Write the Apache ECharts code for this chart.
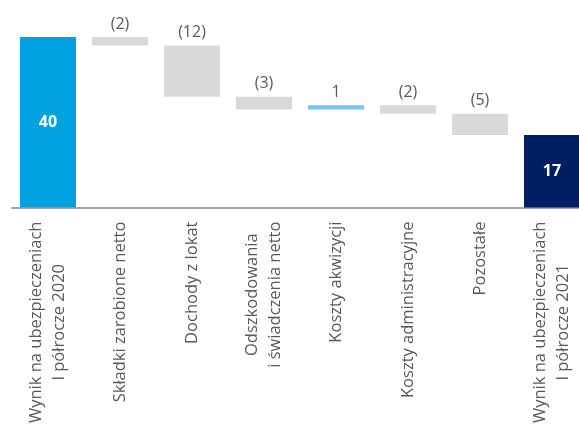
<!DOCTYPE html>
<html>
<head>
<meta charset="utf-8">
<script src="https://cdn.jsdelivr.net/npm/echarts@6/dist/echarts.min.js"></script>
<style>
html,body{margin:0;padding:0;background:#fff;overflow:hidden;width:579px;height:426px;}
#c{width:588px;height:426px;}
</style>
</head>
<body>
<div id="c"></div>
<script>
var categories = [
  'Wynik na ubezpieczeniach\nI półrocze 2020',
  'Składki zarobione netto',
  'Dochody z lokat',
  'Odszkodowania\ni świadczenia netto',
  'Koszty akwizycji',
  'Koszty administracyjne',
  'Pozostałe',
  'Wynik na ubezpieczeniach\nI półrocze 2021'
];
var values = [40, -2, -12, -3, 1, -2, -5, 17];
var kinds = ['total', 'delta', 'delta', 'delta', 'delta', 'delta', 'delta', 'total'];

var colors = {
  start: '#00A3E0',
  end: '#001E62',
  neg: '#D9D9D9',
  pos: '#75C6F2'
};

// build waterfall from values
var base = [], shown = [], running = 0;
for (var i = 0; i < values.length; i++) {
  var v = values[i];
  if (kinds[i] === 'total') {
    base.push(0);
    shown.push(v);
    running = v;
  } else {
    var next = running + v;
    base.push(Math.min(running, next));
    shown.push(Math.abs(v));
    running = next;
  }
}

var barData = shown.map(function (s, i) {
  var col;
  if (kinds[i] === 'total') col = (i === 0) ? colors.start : colors.end;
  else col = values[i] < 0 ? colors.neg : colors.pos;
  var item = { value: s, itemStyle: { color: col } };
  if (kinds[i] === 'total') {
    item.label = { show: true, position: 'inside', color: '#fff', fontWeight: 'bold', fontSize: 16,
      fontFamily: 'Open Sans', formatter: String(values[i]) };
  } else {
    item.label = { show: true, position: 'top', distance: 5, color: '#595959', fontSize: 16,
      fontFamily: 'Open Sans',
      formatter: values[i] < 0 ? '(' + Math.abs(values[i]) + ')' : String(values[i]) };
  }
  return item;
});

var chart = echarts.init(document.getElementById('c'), null, { renderer: 'canvas' });
chart.setOption({
  animation: false,
  textStyle: { fontFamily: 'Open Sans' },
  grid: { left: 12, top: 37, right: 0, height: 173, containLabel: false },
  xAxis: {
    type: 'category',
    data: categories,
    axisLine: { show: true, lineStyle: { color: '#A6A6A6', width: 2 } },
    axisTick: { show: false },
    axisLabel: {
      interval: 0,
      rotate: 90,
      margin: 14,
      color: '#595959',
      fontSize: 16.5,
      fontFamily: 'Open Sans',
      formatter: function (v) {
        return v.split('\n').map(function (l) { return '{a|' + l + '}'; }).join('\n');
      },
      rich: { a: { align: 'center', fontSize: 16.5, color: '#595959', fontFamily: 'Open Sans', lineHeight: 23 } }
    }
  },
  yAxis: { type: 'value', min: 0, max: 40, show: false, splitLine: { show: false } },
  series: [
    { type: 'bar', stack: 'w', data: base, barWidth: 56, itemStyle: { color: 'transparent' }, silent: true },
    { type: 'bar', stack: 'w', data: barData, barWidth: 56 }
  ]
});
</script>
</body>
</html>
